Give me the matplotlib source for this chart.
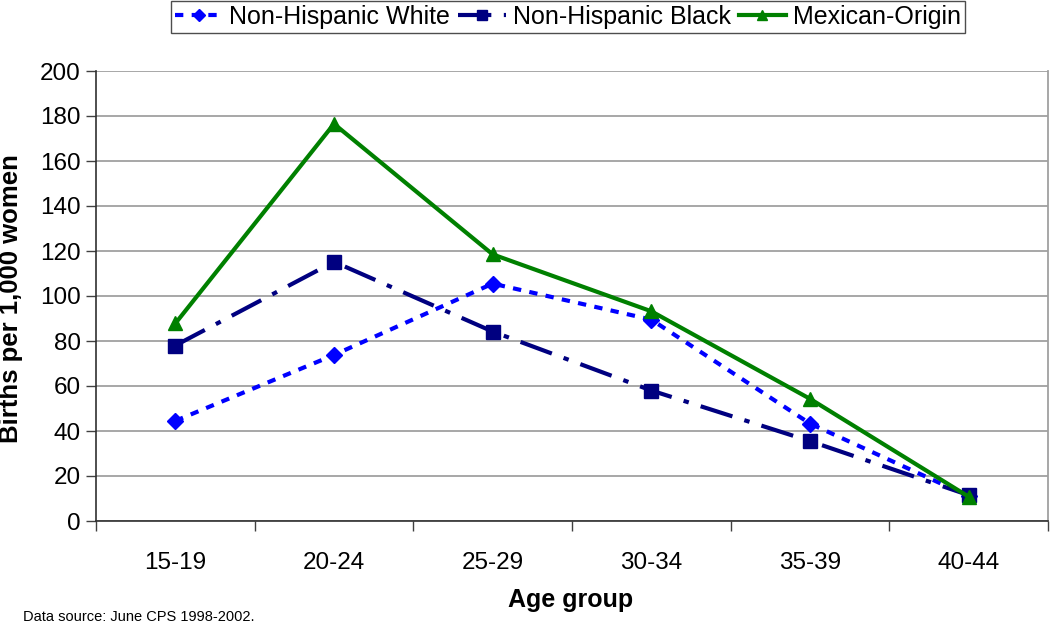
import matplotlib
matplotlib.use("Agg")
import matplotlib.pyplot as plt

age_groups = ["15-19", "20-24", "25-29", "30-34", "35-39", "40-44"]
nh_white = [44.5, 73.8, 105.5, 89.5, 43.3, 11.0]
nh_black = [78.0, 115.2, 84.2, 58.0, 35.5, 11.5]
mexican = [87.8, 176.5, 118.5, 93.2, 54.3, 10.8]
y_ticks = [0, 20, 40, 60, 80, 100, 120, 140, 160, 180, 200]

plt.rcParams['font.family'] = ['Liberation Sans', 'DejaVu Sans']

fig = plt.figure(figsize=(10.5, 6.25), dpi=100)
ax = fig.add_axes([96/1050, 1 - 521/625, (1048-96)/1050, (521-71)/625])

x = list(range(len(age_groups)))
l1, = ax.plot(x, nh_white, color='#0000FF', linewidth=3, linestyle=(0, (2, 2)),
              marker='D', markersize=8.5, label='Non-Hispanic White', zorder=3)
l2, = ax.plot(x, nh_black, color='#000080', linewidth=3, linestyle=(0, (8, 3, 1.3, 3)),
              marker='s', markersize=10, label='Non-Hispanic Black', zorder=3)
l3, = ax.plot(x, mexican, color='#008000', linewidth=3, linestyle='-',
              marker='^', markersize=10.5, label='Mexican-Origin', zorder=4)

ax.set_xlim(-0.5, 5.5)
ax.set_ylim(0, 200)
ax.set_yticks(y_ticks)
ax.set_xticks(x)
ax.set_xticklabels(age_groups)
ax.set_xticks([i - 0.5 for i in range(len(age_groups) + 1)], minor=True)
ax.tick_params(axis='x', which='major', length=0, pad=22, labelsize=17.5)
ax.tick_params(axis='x', which='minor', length=7, width=1, color='#404040', direction='out')
ax.tick_params(axis='y', length=7, width=1, color='#404040', labelsize=17.5, pad=4)

ax.grid(axis='y', color='#a0a0a0', linewidth=1.3, zorder=0)
ax.set_axisbelow(True)
for s in ['left', 'bottom']:
    ax.spines[s].set_color('#303030')
    ax.spines[s].set_linewidth(1.2)
ax.spines['top'].set_visible(False)
ax.spines['right'].set_color('#a0a0a0')
ax.spines['right'].set_linewidth(1.3)

fig.text(11/1050, 1 - 299/625, 'Births per 1,000 women', fontsize=18.5, fontweight='bold',
         rotation=90, ha='center', va='center')
fig.text(571/1050, 1 - 600/625, 'Age group', fontsize=18, fontweight='bold',
         ha='center', va='center')

leg = fig.legend(handles=[l1, l2, l3], loc='upper center', bbox_to_anchor=(568/1050, 1 - 1/625),
                 ncol=3, fontsize=18, frameon=True, fancybox=False, edgecolor='#202020',
                 handlelength=1.9, handletextpad=0.28, columnspacing=0.32, borderpad=0.15,
                 borderaxespad=0, markerscale=0.75)
leg.get_frame().set_linewidth(1.0)

fig.text(23/1050, 1 - 621/625, 'Data source: June CPS 1998-2002.', fontsize=10.5, va='baseline')

fig.savefig('out.png', dpi=100)
